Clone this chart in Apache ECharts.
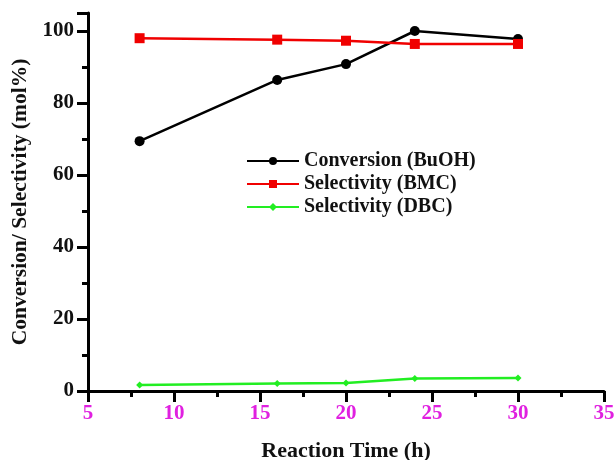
<!DOCTYPE html>
<html lang="en">
<head>
    <meta charset="UTF-8">
    <script src="https://cdn.jsdelivr.net/npm/echarts@6/dist/echarts.min.js"></script>
    <style>
        html, body { margin: 0; padding: 0; background: #fff; }
        #main { width: 614px; height: 460px; }
    </style>
</head>
<body>
    <div id="main"></div>
    <script>
        var times = [8, 16, 20, 24, 30];
        var conversionBuOH = [69.4, 86.4, 90.8, 100, 97.8];
        var selectivityBMC = [98.0, 97.6, 97.3, 96.4, 96.4];
        var selectivityDBC = [1.7, 2.1, 2.2, 3.5, 3.6];

        function pairs(ys) {
            return times.map(function (t, i) { return [t, ys[i]]; });
        }

        var font = '"Liberation Serif", "DejaVu Serif", serif';
        var chart = echarts.init(document.getElementById('main'));

        chart.setOption({
            animation: false,
            textStyle: { fontFamily: font },
            grid: { left: 88, right: 10, top: 13, bottom: 69, outerBoundsMode: 'none', containLabel: false },
            legend: {
                orient: 'vertical',
                left: 241,
                top: 146,
                itemWidth: 52,
                itemHeight: 10,
                itemGap: 3,
                textStyle: { fontFamily: font, fontWeight: 'bold', fontSize: 20, color: '#111' },
                data: ['Conversion (BuOH)', 'Selectivity (BMC)', 'Selectivity (DBC)']
            },
            xAxis: {
                type: 'value',
                min: 5, max: 35, interval: 5,
                name: 'Reaction Time (h)',
                nameLocation: 'middle',
                nameGap: 49,
                nameTextStyle: { fontFamily: font, fontWeight: 'bold', fontSize: 22, color: '#111' },
                axisLine: { lineStyle: { color: '#000', width: 3 } },
                axisTick: { length: 11, lineStyle: { color: '#000', width: 3 } },
                minorTick: { show: true, splitNumber: 2, length: 6, lineStyle: { color: '#000', width: 3 } },
                axisLabel: { fontFamily: font, fontWeight: 'bold', fontSize: 21, color: '#e020e0', margin: 12 },
                splitLine: { show: false }
            },
            yAxis: {
                type: 'value',
                min: 0, max: 105, interval: 20,
                name: 'Conversion/ Selectivity (mol%)',
                nameLocation: 'middle',
                nameGap: 54,
                nameTextStyle: { fontFamily: font, fontWeight: 'bold', fontSize: 21.5, color: '#111' },
                axisLine: { show: true, lineStyle: { color: '#000', width: 3 } },
                axisTick: { length: 11, lineStyle: { color: '#000', width: 3 } },
                minorTick: { show: true, splitNumber: 2, length: 6, lineStyle: { color: '#000', width: 3 } },
                axisLabel: {
                    fontFamily: font, fontWeight: 'bold', fontSize: 21, color: '#111', margin: 14,
                    showMaxLabel: false,
                    formatter: function (v) { return v > 100 ? '' : v; }
                },
                splitLine: { show: false }
            },
            series: [
                {
                    name: 'Conversion (BuOH)',
                    type: 'line',
                    data: pairs(conversionBuOH),
                    symbol: 'circle',
                    symbolSize: 10,
                    itemStyle: { color: '#000' },
                    lineStyle: { color: '#000', width: 2.5 }
                },
                {
                    name: 'Selectivity (BMC)',
                    type: 'line',
                    data: pairs(selectivityBMC),
                    symbol: 'rect',
                    symbolSize: 10,
                    itemStyle: { color: '#f00000' },
                    lineStyle: { color: '#f00000', width: 2.5 }
                },
                {
                    name: 'Selectivity (DBC)',
                    type: 'line',
                    data: pairs(selectivityDBC),
                    symbol: 'diamond',
                    symbolSize: 7,
                    itemStyle: { color: '#22ee22' },
                    lineStyle: { color: '#22ee22', width: 2.5 }
                }
            ]
        });
    </script>
</body>
</html>
